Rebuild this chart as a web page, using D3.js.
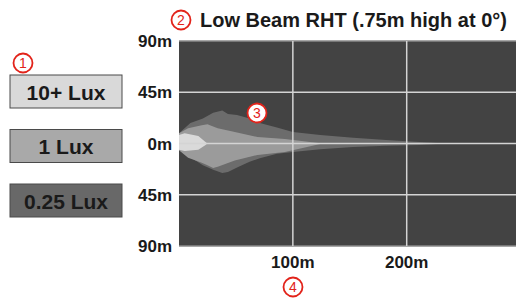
<!DOCTYPE html>
<meta charset="utf-8">
<style>
  body { margin: 0; background: #fff; }
  text { font-family: "Liberation Sans Narrow", "Arial Narrow", "Liberation Sans", Arial, sans-serif; font-weight: bold; fill: #1a1a1a; }
</style>
<body>
<div id="chart"></div>
<script src="https://d3js.org/d3.v7.min.js"></script>
<script>
// beam contours, distance in m and lateral offset in m (left +, right -)
var outerDist = [0, 10, 21, 30, 38, 43, 51, 62, 71, 86, 100, 124, 153, 182, 211, 235];
var outerTop = [9, 18, 22, 27, 29, 26, 25, 22, 18, 14, 10, 7.5, 5, 3, 1.3, 0];
var outerBot = [-6, -12, -19, -23, -26, -25, -21, -16, -13, -9, -7.5, -5, -3, -2, -1.3, 0];

var midDist = [0, 8, 20, 25, 30, 34, 49, 69, 93, 126];
var midTop = [9, 13.5, 16, 17, 15, 13.5, 10, 5.7, 4, 0];
var midBot = [-6, -12.5, -17, -19, -21.5, -20.5, -15, -10, -7.5, 0];

var innerDist = [0, 5, 17, 23, 25];
var innerTop = [7.5, 9, 6.5, 1.5, 0];
var innerBot = [-5.5, -6.5, -5.5, -1.5, 0];

var legendLabels = ["10+ Lux", "1 Lux", "0.25 Lux"];
var legendColors = ["#d9d9d9", "#a9a9a9", "#686868"];
var yTicks = [90, 45, 0, -45, -90];
var xTicks = [100, 200];

var width = 516, height = 300;

var svg = d3.select("#chart").append("svg")
  .attr("width", width)
  .attr("height", height);

var x = d3.scaleLinear().domain([0, 296]).range([179, 516]);
var y = d3.scaleLinear().domain([-90, 90]).range([246, 41]);

// plot background
svg.append("rect")
  .attr("x", x(0)).attr("y", y(90))
  .attr("width", x(296) - x(0)).attr("height", y(-90) - y(90))
  .style("fill", "#434343");

function band(dist, top, bot) {
  var pts = dist.map(function(d, i) { return [x(d), y(top[i])]; });
  for (var i = dist.length - 1; i >= 0; i--) pts.push([x(dist[i]), y(bot[i])]);
  return d3.line()(pts) + "Z";
}

svg.append("path").attr("d", band(outerDist, outerTop, outerBot)).style("fill", "#6c6c6c");
svg.append("path").attr("d", band(midDist, midTop, midBot)).style("fill", "#9b9b9b");
svg.append("path").attr("d", band(innerDist, innerTop, innerBot)).style("fill", "#dadada");

// gridlines
svg.selectAll(".hgrid")
  .data(yTicks)
  .enter().append("line")
  .attr("x1", x(0)).attr("x2", width)
  .attr("y1", function(d) { return y(d); })
  .attr("y2", function(d) { return y(d); })
  .style("stroke", function(d) { return Math.abs(d) == 90 ? "#8a8a8a" : "#d4d4d4"; })
  .style("stroke-width", 1.5);

svg.selectAll(".vgrid")
  .data(xTicks)
  .enter().append("line")
  .attr("x1", function(d) { return x(d); })
  .attr("x2", function(d) { return x(d); })
  .attr("y1", y(90)).attr("y2", y(-90))
  .style("stroke", "#d4d4d4")
  .style("stroke-width", 1.5);

// axis labels
svg.selectAll(".ylab")
  .data(yTicks)
  .enter().append("text")
  .attr("x", 172)
  .attr("y", function(d) { return y(d); })
  .attr("dy", "0.36em")
  .attr("text-anchor", "end")
  .style("font-size", "17px")
  .text(function(d) { return Math.abs(d) + "m"; });

svg.selectAll(".xlab")
  .data(xTicks)
  .enter().append("text")
  .attr("x", function(d) { return x(d); })
  .attr("y", 268)
  .attr("text-anchor", "middle")
  .style("font-size", "17px")
  .text(function(d) { return d + "m"; });

// title
svg.append("text")
  .attr("x", 200).attr("y", 27)
  .style("font-size", "20px")
  .text("Low Beam RHT (.75m high at 0°)");

// legend
var leg = svg.selectAll(".leg")
  .data(legendLabels)
  .enter().append("g")
  .attr("transform", function(d, i) { return "translate(10," + (75 + i * 54.5) + ")"; });

leg.append("rect")
  .attr("width", 112).attr("height", 33)
  .style("fill", function(d, i) { return legendColors[i]; })
  .style("stroke", "#4a4a4a")
  .style("stroke-width", 1);

leg.append("text")
  .attr("x", 56).attr("y", 17)
  .attr("dy", "0.36em")
  .attr("text-anchor", "middle")
  .style("font-size", "21px")
  .text(function(d) { return d; });

// red numbered markers
var markers = [
  {n: "1", cx: 23, cy: 63, fill: "none"},
  {n: "2", cx: 181, cy: 20, fill: "none"},
  {n: "3", cx: 257, cy: 113, fill: "#fff"},
  {n: "4", cx: 293, cy: 287, fill: "none"}
];
var mk = svg.selectAll(".mk")
  .data(markers)
  .enter().append("g")
  .attr("transform", function(d) { return "translate(" + d.cx + "," + d.cy + ")"; });

mk.append("circle")
  .attr("r", 9.5)
  .style("fill", function(d) { return d.fill; })
  .style("stroke", "#e2231a")
  .style("stroke-width", 1.8);

mk.append("text")
  .attr("dy", "0.36em")
  .attr("text-anchor", "middle")
  .style("font-size", "14px")
  .style("font-weight", "normal")
  .style("font-family", "'Liberation Sans', Arial, sans-serif")
  .style("fill", "#e2231a")
  .text(function(d) { return d.n; });
</script>
</body>
